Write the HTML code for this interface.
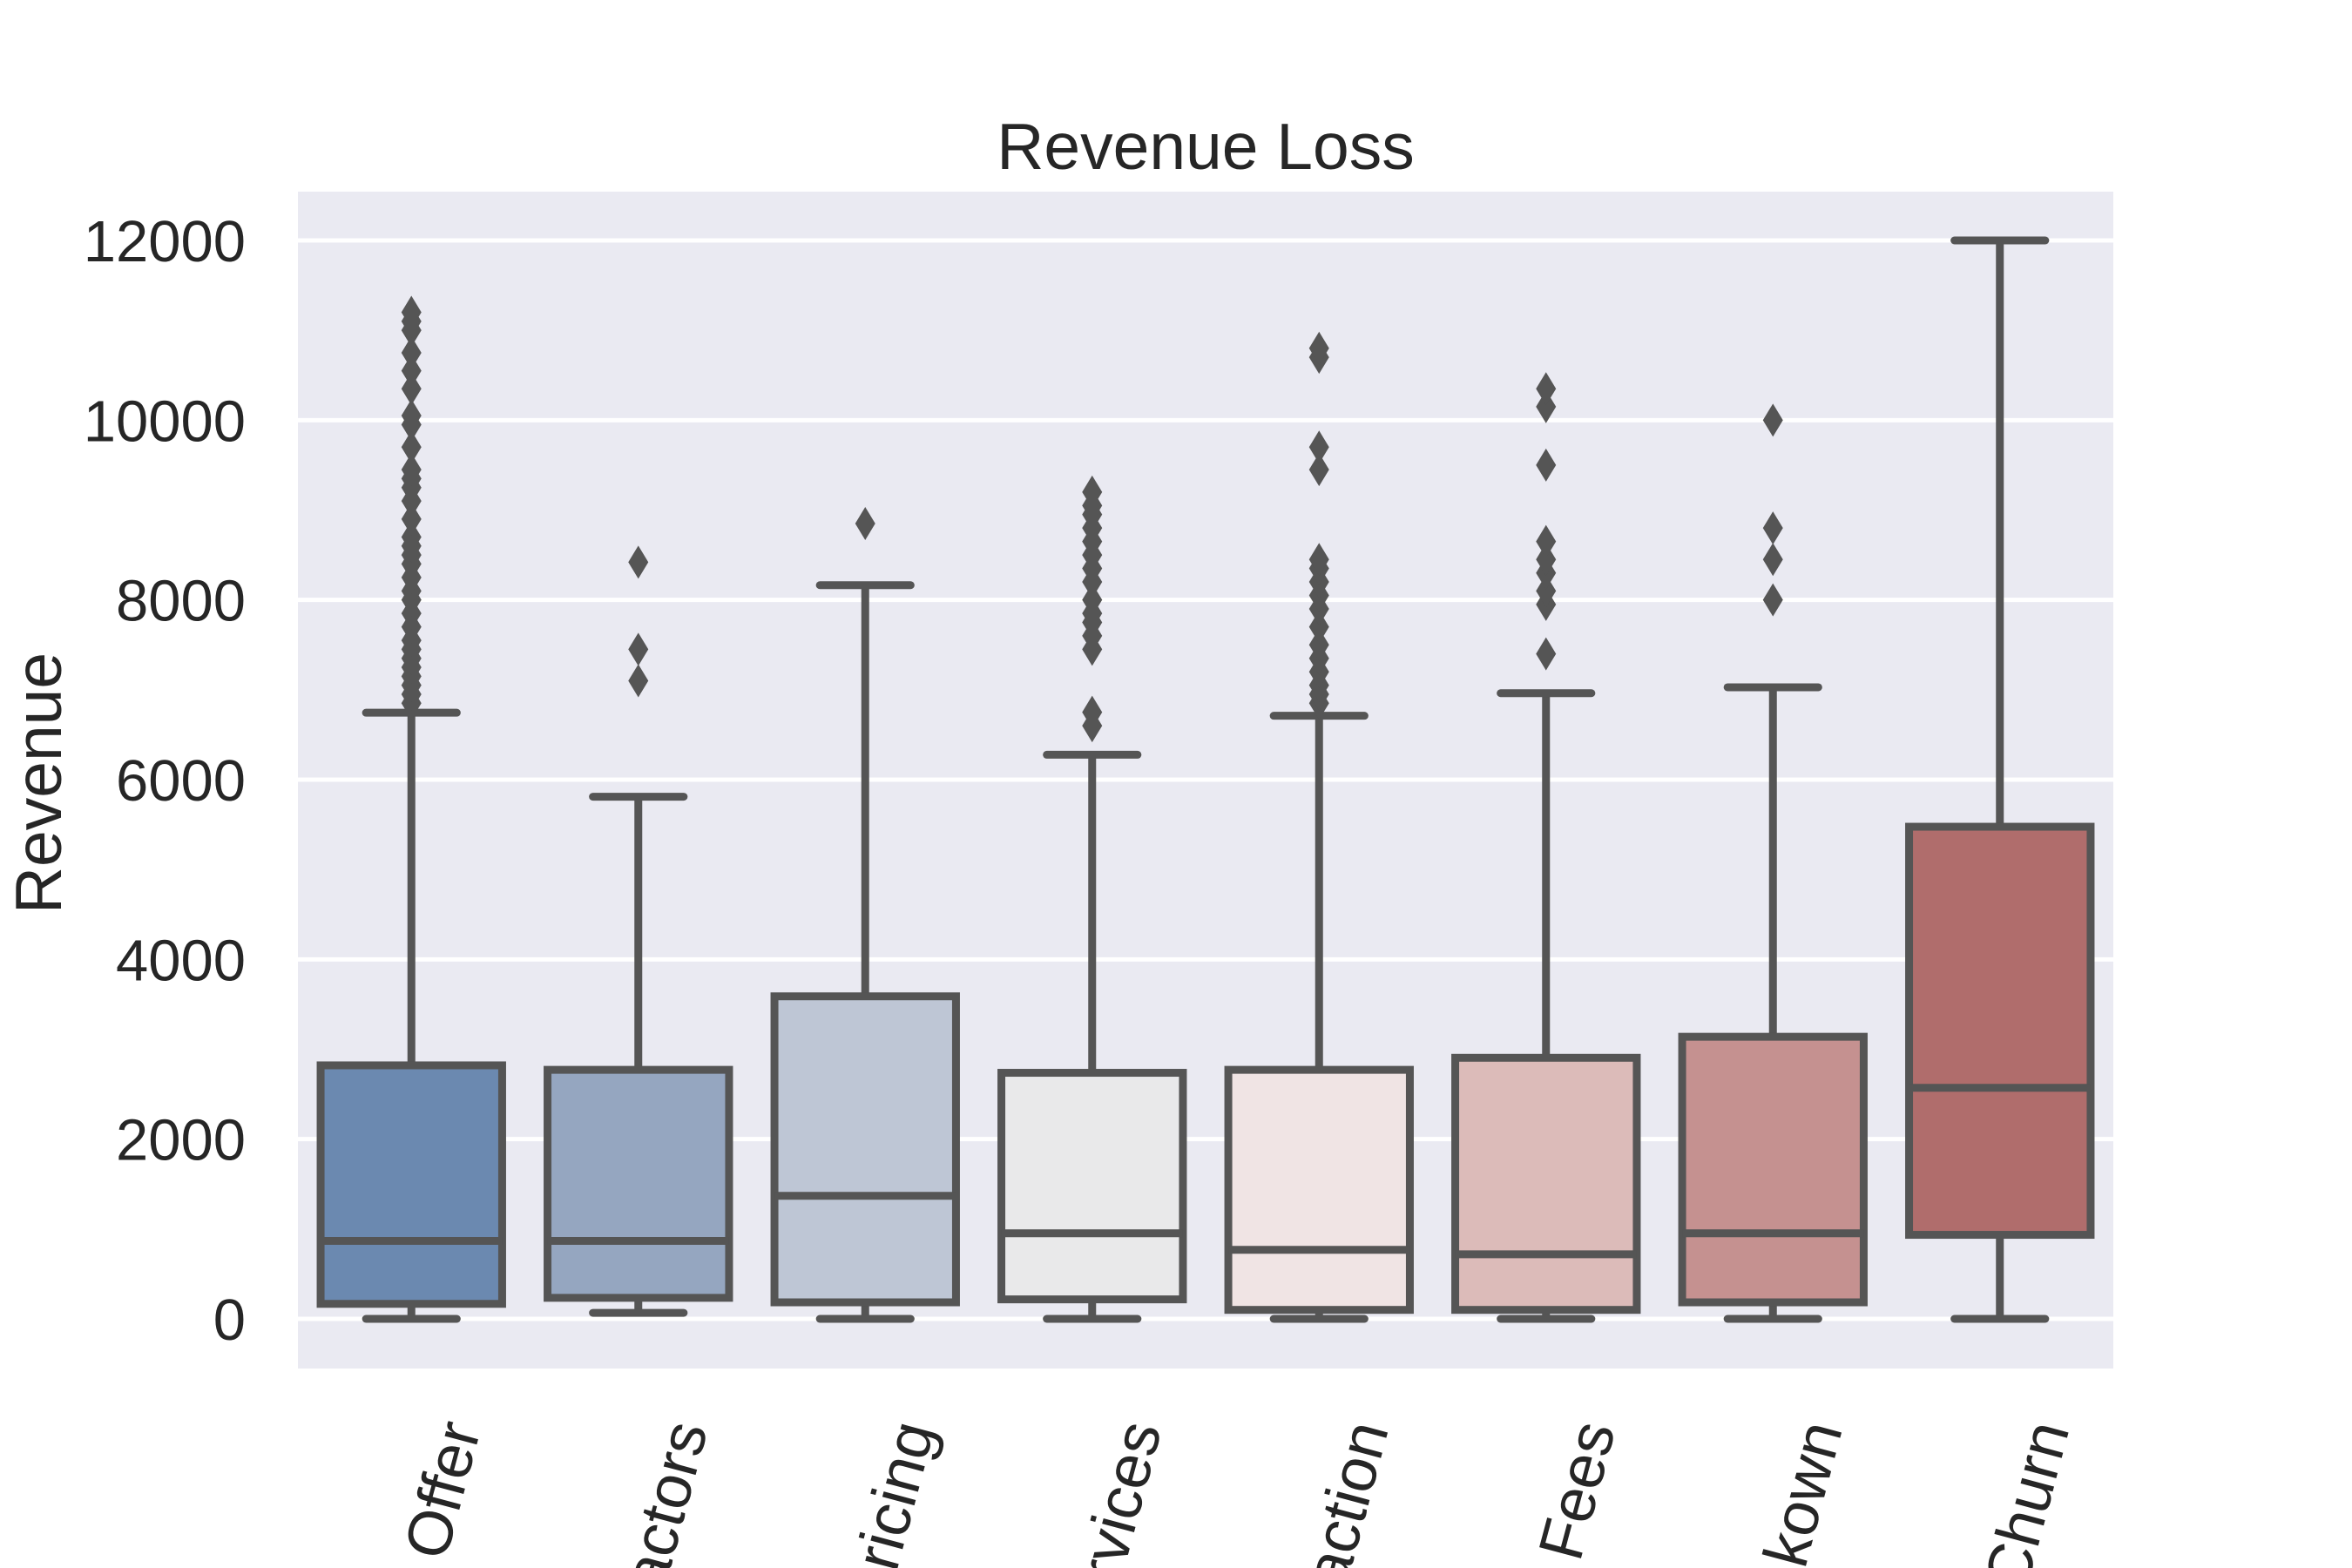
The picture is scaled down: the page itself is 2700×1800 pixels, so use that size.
<!DOCTYPE html>
<html><head><meta charset="utf-8"><style>
html,body{margin:0;padding:0;background:#fff;width:2700px;height:1800px;overflow:hidden;}
svg{display:block;font-family:"Liberation Sans",sans-serif;}
</style></head><body>
<svg id="chart" width="2700" height="1800" viewBox="0 0 2700 1800" xmlns="http://www.w3.org/2000/svg">
<rect x="0" y="0" width="2700" height="1800" fill="#fff"/>
<rect x="342" y="220" width="2084" height="1351" fill="#eaeaf2"/>
<g id="grid"></g>
<g id="yticks"></g>
<g id="boxes"></g>
<g id="xticks"></g>
<text x="1384" y="194" font-size="75" text-anchor="middle" fill="#262626">Revenue Loss</text>
<text transform="translate(70,899) rotate(-90)" font-size="75" text-anchor="middle" fill="#262626">Revenue</text>
</svg>
<script>
const categories = ["Better Offer","External Factors","Pricing","Poor Services","Dissatisfaction","High Fees","Breakown","Customer Churn"];
const q1Values = [167,234,184,217,100,100,184,935];
const medianValues = [868,868,1369,952,768,718,952,2571];
const q3Values = [2821,2771,3589,2738,2771,2905,3139,5476];
const whiskerLow = [0,67,0,0,0,0,0,0];
const whiskerHigh = [6745,5810,8164,6277,6711,6962,7028,12000];
const outliers = [
 [6850,6950,7050,7150,7250,7350,7450,7550,7700,7850,8000,8100,8250,8400,8500,8600,8700,8900,9100,9250,9350,9450,9700,9950,10050,10350,10550,10750,11000,11100,11200],
 [7100,7450,8420],
 [8850],
 [6600,6750,7450,7600,7750,7850,8000,8200,8350,8500,8650,8800,8950,9050,9200],
 [6850,6950,7050,7200,7350,7500,7700,7900,8050,8200,8350,8450,9450,9700,10700,10800],
 [7400,7950,8100,8300,8450,8650,9500,10150,10350],
 [8000,8450,8800,10000],
 []
];
const yTicks = [0,2000,4000,6000,8000,10000,12000];
const boxColors = ["#6b89b0","#95a6c0","#bec6d5","#e9e9ea","#f0e4e4","#dcbbb9","#c59190","#b06d6c"];

const NS="http://www.w3.org/2000/svg";
const plotL=342, plotR=2426, y0=1514, pxPerUnit=1238/12000;
const band=(plotR-plotL)/categories.length;
function yScale(v){return y0 - v*pxPerUnit;}
function xScale(i){return plotL + band*(i+0.5);}
function mk(tag,attrs,parent){const e=document.createElementNS(NS,tag);for(const k in attrs)e.setAttribute(k,attrs[k]);parent.appendChild(e);return e;}
const grid=document.getElementById('grid'), yt=document.getElementById('yticks'), bx=document.getElementById('boxes'), xt=document.getElementById('xticks');
yTicks.forEach(t=>{
  const l=mk('line',{x1:plotL,x2:plotR,y1:yScale(t),y2:yScale(t),stroke:'#fff','stroke-width':5},grid);
  
  
  const tx=mk('text',{x:282,y:yScale(t)+24,'font-size':67,'text-anchor':'end',fill:'#262626'},yt);
  tx.textContent=t;
  
  
});
const bw=band*0.8, cap=bw/2, lc='#555555', lw=9;
categories.forEach((c,i)=>{
  const cx=xScale(i);
  const g=mk('g',{},bx);
  
  
  mk('line',{x1:cx,x2:cx,y1:yScale(q3Values[i]),y2:yScale(whiskerHigh[i]),stroke:lc,'stroke-width':lw},g);
  mk('line',{x1:cx,x2:cx,y1:yScale(q1Values[i]),y2:yScale(whiskerLow[i]),stroke:lc,'stroke-width':lw},g);
  mk('line',{x1:cx-cap/2,x2:cx+cap/2,y1:yScale(whiskerHigh[i]),y2:yScale(whiskerHigh[i]),stroke:lc,'stroke-width':lw,'stroke-linecap':'round'},g);
  mk('line',{x1:cx-cap/2,x2:cx+cap/2,y1:yScale(whiskerLow[i]),y2:yScale(whiskerLow[i]),stroke:lc,'stroke-width':lw,'stroke-linecap':'round'},g);
  mk('rect',{x:cx-bw/2,y:yScale(q3Values[i]),width:bw,height:yScale(q1Values[i])-yScale(q3Values[i]),fill:boxColors[i],stroke:lc,'stroke-width':lw},g);
  mk('line',{x1:cx-bw/2,x2:cx+bw/2,y1:yScale(medianValues[i]),y2:yScale(medianValues[i]),stroke:lc,'stroke-width':lw},g);
  outliers[i].forEach(v=>{
    const y=yScale(v);
    const d=mk('polygon',{points:`${cx},${y-19} ${cx+11.5},${y} ${cx},${y+19} ${cx-11.5},${y}`,fill:lc},g);
    
    
  });
  const tx=mk('text',{transform:`translate(${cx+80},1640) rotate(-75)`,'font-size':72,'text-anchor':'end',fill:'#262626'},xt);
  tx.textContent=c;
  
  
});
</script>
</body></html>
